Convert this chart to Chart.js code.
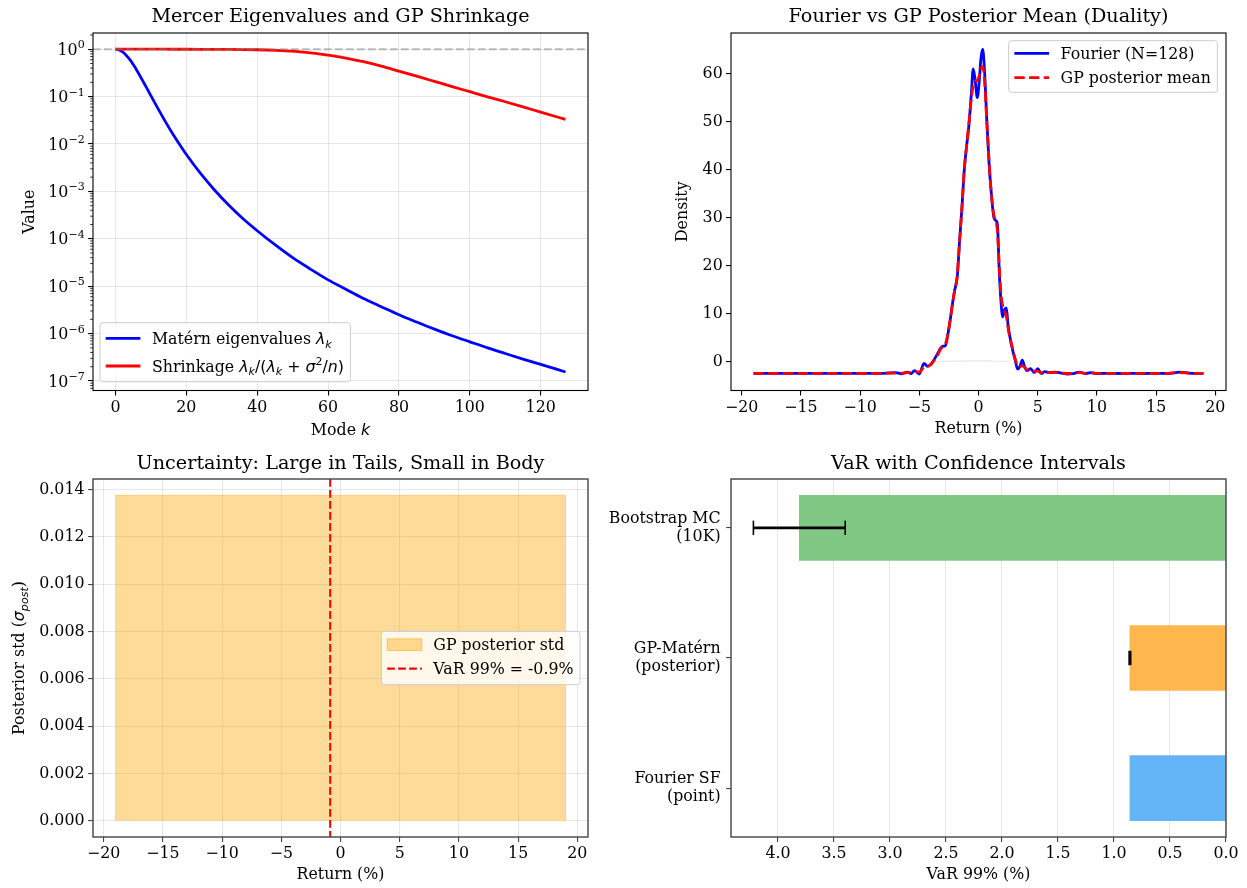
<!DOCTYPE html>
<html>
<head>
<meta charset="utf-8">
<script src="https://cdn.jsdelivr.net/npm/chart.js@4.4.1/dist/chart.umd.min.js"></script>
<style>
  html, body { margin: 0; padding: 0; background: #fff; }
  #fig { position: relative; width: 1247px; height: 888px; overflow: hidden; }
  canvas { position: absolute; }
</style>
</head>
<body>
<div id="fig">
  <canvas id="mercer" width="620" height="444" style="left:0;top:0"></canvas>
  <canvas id="duality" width="627" height="444" style="left:620px;top:0"></canvas>
  <canvas id="uncert" width="620" height="444" style="left:0;top:444px"></canvas>
  <canvas id="var" width="647" height="444" style="left:600px;top:444px"></canvas>
</div>
<script>
// ---- data: Mercer eigenvalues / shrinkage (top left) ----
const modeK = [0, 1, 2, 3, 4, 5, 6, 8, 10, 12, 14, 16, 18, 20, 24, 28, 32, 36, 40, 45, 50, 55, 60, 65, 70, 75, 80, 85, 90, 95, 100, 105, 110, 115, 120, 127];
const maternEig = [1, 0.967, 0.876, 0.749, 0.609, 0.476, 0.361, 0.196, 0.104, 0.0557, 0.0304, 0.0171, 0.0100, 0.0060, 2.39e-3, 1.06e-3, 5.1e-4, 2.65e-4, 1.48e-4, 7.5e-5, 4.0e-5, 2.3e-5, 1.36e-5, 8.6e-6, 5.5e-6, 3.7e-6, 2.5e-6, 1.75e-6, 1.24e-6, 9.0e-7, 6.7e-7, 5.0e-7, 3.8e-7, 2.9e-7, 2.25e-7, 1.55e-7];
const shrinkage = [1, 1, 1, 1, 1, 1, 1, 1, 1, 1, 1, 0.9997, 0.9995, 0.9992, 0.998, 0.996, 0.992, 0.985, 0.975, 0.95, 0.91, 0.84, 0.755, 0.65, 0.545, 0.44, 0.345, 0.27, 0.21, 0.163, 0.127, 0.099, 0.078, 0.061, 0.047, 0.033];
const mercerXTicks = [0, 20, 40, 60, 80, 100, 120];
const mercerYTicks = [1e-7, 1e-6, 1e-5, 1e-4, 1e-3, 1e-2, 1e-1, 1];
const mercerYExponents = ['\u22127', '\u22126', '\u22125', '\u22124', '\u22123', '\u22122', '\u22121', '0'];

// ---- data: Fourier vs GP posterior mean (top right) ----
const returnX = [-19, -15, -10, -8, -7, -6.5, -6, -5.7, -5.4, -5.0, -4.6, -4.3, -4.0, -3.7, -3.4, -3.2, -3.0, -2.8, -2.6, -2.4,
  -2.2, -2.0, -1.8, -1.6, -1.4, -1.2, -1.0, -0.8, -0.6, -0.45, -0.3, -0.1, 0.05, 0.2, 0.35, 0.5, 0.7, 0.9, 1.1, 1.3,
  1.5, 1.6, 1.75, 1.9, 2.05, 2.2, 2.35, 2.5, 2.7, 2.9, 3.1, 3.3, 3.5, 3.7, 3.9, 4.1, 4.4, 4.7, 5.0, 5.3,
  5.6, 6.0, 6.5, 7.0, 7.5, 8.0, 8.5, 9.0, 9.5, 10, 11, 12, 13, 14, 15, 16, 17, 18, 19];
const fourierDensity = [-2.45, -2.45, -2.45, -2.45, -2.3, -2.55, -2.2, -2.5, -1.9, -2.6, -0.4, -1.0, -0.5, 0.6, 1.9, 2.8, 3.2, 3.3, 5.5, 8.5,
  12.0, 15.0, 17.5, 25.0, 32.0, 40.0, 45.0, 49.5, 56.0, 61.0, 59.0, 55.0, 58.0, 63.0, 65.1, 61.0, 50.3, 41.0, 34.5, 30.0,
  29.3, 28.5, 19.0, 12.5, 9.3, 10.8, 11.2, 7.5, 4.5, 2.2, 0.3, -1.6, -1.0, 0.3, -1.2, -1.9, -1.5, -2.3, -1.5, -2.5,
  -2.1, -2.3, -2.2, -2.4, -2.6, -2.5, -2.2, -2.5, -2.3, -2.5, -2.45, -2.5, -2.45, -2.5, -2.45, -2.5, -2.2, -2.45, -2.45];
const gpMeanDensity = [-2.45, -2.45, -2.45, -2.45, -2.4, -2.4, -2.3, -2.3, -2.1, -2.2, -1.2, -1.0, -0.6, 0.4, 1.6, 2.6, 3.1, 3.6, 5.5, 8.5,
  12.0, 15.0, 17.8, 25.0, 32.0, 40.0, 45.0, 50.0, 55.0, 57.5, 58.5, 58.5, 59.5, 61.0, 61.5, 59.0, 50.0, 41.5, 34.5, 30.5,
  29.0, 27.0, 20.0, 14.0, 11.5, 10.5, 9.5, 7.0, 4.5, 2.5, 0.5, -0.8, -1.0, -0.9, -1.2, -1.7, -1.8, -2.0, -2.0, -2.3,
  -2.2, -2.3, -2.25, -2.4, -2.5, -2.45, -2.3, -2.45, -2.35, -2.45, -2.45, -2.45, -2.45, -2.45, -2.45, -2.45, -2.3, -2.45, -2.45];
const faintX = [-3.5, -2.5, -1.5, -0.5, 0.5, 1.5, 2.5];
const faintY = [0.0, 0.05, 0.1, 0.14, 0.12, 0.06, 0.0];
const returnTicks = [-20, -15, -10, -5, 0, 5, 10, 15, 20];
const densityTicks = [0, 10, 20, 30, 40, 50, 60];

// ---- data: posterior std (bottom left) ----
const stdX = [-19, -19, 19, 19];
const stdY = [0, 0.01376, 0.01376, 0];
const varLine = -0.87;
const stdTicks = [0, 0.002, 0.004, 0.006, 0.008, 0.010, 0.012, 0.014];

// ---- data: VaR with CI (bottom right) ----
const varMethods = [['Bootstrap MC', '(10K)'], ['GP-Mat\u00e9rn', '(posterior)'], ['Fourier SF', '(point)']];
const varPos = [2, 1, 0];
const varValue = [3.81, 0.858, 0.858];
const varLow = [3.40, 0.851, null];
const varHigh = [4.22, 0.865, null];
const varColors = ['#81C784', '#FFB74D', '#64B5F6'];
const varTicks = [0, 0.5, 1.0, 1.5, 2.0, 2.5, 3.0, 3.5, 4.0];

// ---- styling ----
const SERIF = "'DejaVu Serif', serif";
const MATH = "'DejaVu Sans', sans-serif";
const FS = 15.8;
const TFS = 19.2;
const GRID = 'rgba(176,176,176,0.3)';
const minus = v => String(v).replace('-', '\u2212');

Chart.defaults.font.family = SERIF;
Chart.defaults.font.size = FS;
Chart.defaults.color = '#000';
Chart.defaults.animation = false;
Chart.defaults.plugins.legend.display = false;
Chart.defaults.plugins.tooltip.enabled = false;

function titleOpts(text, top, bottom) {
  return { display: true, text: text, fullSize: false, color: '#000',
    font: { size: TFS, weight: 'normal', family: SERIF }, padding: { top: top, bottom: bottom } };
}

function makeAxis(o) {
  const ax = {
    type: o.type || 'linear', bounds: 'data', min: o.min, max: o.max, reverse: !!o.reverse, z: o.z || 0,
    offset: false,
    border: { display: false },
    grid: { color: GRID, lineWidth: 1.1, drawOnChartArea: o.grid !== false, offset: false,
      tickColor: o.tickColor || '#000', tickLength: 4.9, tickWidth: 1.1 },
    ticks: { display: o.hideLabels ? false : true, padding: o.pad, autoSkip: false, maxRotation: 0, minRotation: 0,
      color: '#000', font: { size: FS, lineHeight: o.lineHeight || 1.2 },
      callback: (v, i) => (o.labels ? o.labels[i] : '') },
    afterBuildTicks: s => { s.ticks = o.ticks.map(v => ({ value: v })); },
    afterFit: s => { if (o.vertical) s.width = o.size; else s.height = o.size; }
  };
  if (o.title) ax.title = { display: true, text: o.title, color: '#000', font: { size: FS }, padding: o.titlePad };
  return ax;
}

// rich text with italic math, subscripts and superscripts
function segFont(s, size) {
  const sz = (s.sub || s.sup) ? size * 0.7 : size;
  return (s.it ? 'italic ' : '') + sz + 'px ' + (s.math ? MATH : SERIF);
}
function richWidth(ctx, segs, size) {
  let w = 0;
  segs.forEach(s => { ctx.font = segFont(s, size); w += ctx.measureText(s.t).width; });
  return w;
}
function drawRich(ctx, segs, x, y, size, align) {
  const w = richWidth(ctx, segs, size);
  let cx = align === 'center' ? x - w / 2 : (align === 'right' ? x - w : x);
  ctx.textAlign = 'left';
  ctx.textBaseline = 'alphabetic';
  const base = y + size * 0.36;
  segs.forEach(s => {
    ctx.font = segFont(s, size);
    const dy = s.sub ? size * 0.24 : (s.sup ? -size * 0.42 : 0);
    ctx.fillText(s.t, cx, base + dy);
    cx += ctx.measureText(s.t).width;
  });
}

function framePlugin(color, width) {
  return { id: 'frame', afterDraw(chart) {
    const { ctx, chartArea: a } = chart;
    ctx.save();
    ctx.strokeStyle = color; ctx.lineWidth = width;
    ctx.strokeRect(a.left, a.top, a.right - a.left, a.bottom - a.top);
    ctx.restore();
  } };
}

function legendPlugin(lg) {
  return { id: 'customLegend', afterDraw(chart) {
    const { ctx, chartArea: a } = chart;
    ctx.save();
    const textW = Math.max(...lg.items.map(it => richWidth(ctx, it.segs, FS)));
    const w = 51.9 + textW + 6.5;
    let x, y;
    if (lg.anchor === 'lowerleft') { x = a.left + lg.dx; y = a.bottom - lg.dy - lg.h; }
    else if (lg.anchor === 'upperright') { x = a.right - lg.dx - w; y = a.top + lg.dy; }
    else { x = a.right - lg.dx - w; y = (a.top + a.bottom) / 2 - lg.h / 2; }
    ctx.beginPath();
    ctx.roundRect(x, y, w, lg.h, 3);
    ctx.fillStyle = 'rgba(255,255,255,0.8)';
    ctx.fill();
    ctx.strokeStyle = '#cccccc'; ctx.lineWidth = 1;
    ctx.stroke();
    lg.items.forEach((it, i) => {
      const ry = y + lg.rows[i];
      const hx = x + 5.7;
      if (it.kind === 'patch') {
        ctx.fillStyle = it.fill;
        ctx.fillRect(hx, ry - 5.85, 34.7, 11.7);
        ctx.strokeStyle = it.edge; ctx.lineWidth = 1;
        ctx.strokeRect(hx, ry - 5.85, 34.7, 11.7);
      } else {
        ctx.beginPath();
        ctx.setLineDash(it.dash || []);
        ctx.strokeStyle = it.color; ctx.lineWidth = it.width;
        ctx.moveTo(hx, ry); ctx.lineTo(hx + 34.7, ry);
        ctx.stroke();
        ctx.setLineDash([]);
      }
      ctx.fillStyle = '#000';
      drawRich(ctx, it.segs, x + 51.9, ry, FS, 'left');
    });
    ctx.restore();
  } };
}

// ---------------- top left: Mercer eigenvalues ----------------
const mercerExtras = {
  id: 'mercerExtras',
  afterDatasetsDraw(chart) {
    const { ctx, chartArea: a, scales } = chart;
    const y1 = scales.y.getPixelForValue(1);
    ctx.save();
    ctx.strokeStyle = 'rgba(128,128,128,0.5)'; ctx.lineWidth = 2.08;
    ctx.setLineDash([7.7, 3.3]);
    ctx.beginPath(); ctx.moveTo(a.left, y1); ctx.lineTo(a.right, y1); ctx.stroke();
    ctx.restore();
  },
  afterDraw(chart) {
    const { ctx, chartArea: a, scales } = chart;
    ctx.save();
    // minor log ticks
    ctx.strokeStyle = '#000'; ctx.lineWidth = 0.8;
    for (let n = -8; n <= 0; n++) {
      for (let m = 2; m <= 9; m++) {
        const v = m * Math.pow(10, n);
        if (v < scales.y.min || v > scales.y.max) continue;
        const py = scales.y.getPixelForValue(v);
        ctx.beginPath(); ctx.moveTo(a.left - 2.8, py); ctx.lineTo(a.left, py); ctx.stroke();
      }
    }
    // power-of-ten tick labels
    ctx.fillStyle = '#000';
    scales.y.ticks.forEach((t, i) => {
      const py = scales.y.getPixelForValue(t.value);
      drawRich(ctx, [{ t: '10' }, { t: mercerYExponents[i], sup: true }], a.left - 8.3, py, FS, 'right');
    });
    drawRich(ctx, [{ t: 'Mode ' }, { t: 'k', it: true, math: true }], (a.left + a.right) / 2, 429, FS, 'center');
    ctx.restore();
  }
};

new Chart(document.getElementById('mercer'), {
  type: 'line',
  data: { datasets: [
    { data: modeK.map((k, i) => ({ x: k, y: maternEig[i] })), borderColor: '#0000ff', borderWidth: 2.78,
      pointRadius: 0, cubicInterpolationMode: 'monotone', order: 2 },
    { data: modeK.map((k, i) => ({ x: k, y: shrinkage[i] })), borderColor: '#ff0000', borderWidth: 2.78,
      pointRadius: 0, cubicInterpolationMode: 'monotone', order: 1 }
  ] },
  options: {
    responsive: false,
    layout: { padding: { left: 0, right: 32, top: 0, bottom: 0 } },
    plugins: { title: titleOpts('Mercer Eigenvalues and GP Shrinkage', 5.18, 4.78) },
    scales: {
      x: makeAxis({ min: -6.35, max: 133.35, ticks: mercerXTicks, labels: mercerXTicks.map(String), size: 53.5, pad: 3.0 }),
      y: makeAxis({ type: 'logarithmic', min: 6.3e-8, max: 2.2, ticks: mercerYTicks, hideLabels: true,
        vertical: true, size: 93, pad: 3.4, title: 'Value', titlePad: { top: 20.0 } })
    }
  },
  plugins: [mercerExtras, framePlugin('#000', 1.1), legendPlugin({
    anchor: 'lowerleft', dx: 7, dy: 8.8, h: 59, rows: [15.6, 43.3],
    items: [
      { kind: 'line', color: '#0000ff', width: 2.78,
        segs: [{ t: 'Mat\u00e9rn eigenvalues ' }, { t: '\u03bb', it: true, math: true }, { t: 'k', it: true, math: true, sub: true }] },
      { kind: 'line', color: '#ff0000', width: 2.78,
        segs: [{ t: 'Shrinkage ' }, { t: '\u03bb', it: true, math: true }, { t: 'k', it: true, math: true, sub: true },
          { t: '/(', math: true }, { t: '\u03bb', it: true, math: true }, { t: 'k', it: true, math: true, sub: true },
          { t: ' + ', math: true }, { t: '\u03c3', it: true, math: true }, { t: '2', math: true, sup: true },
          { t: '/', math: true }, { t: 'n', it: true, math: true }, { t: ')', math: true }] }
    ]
  })]
});

// ---------------- top right: Fourier vs GP ----------------
new Chart(document.getElementById('duality'), {
  type: 'line',
  data: { datasets: [
    { data: returnX.map((x, i) => ({ x: x, y: fourierDensity[i] })), borderColor: '#0000ff', borderWidth: 2.78,
      pointRadius: 0, cubicInterpolationMode: 'monotone', order: 2 },
    { data: returnX.map((x, i) => ({ x: x, y: gpMeanDensity[i] })), borderColor: '#ff0000', borderWidth: 2.78,
      borderDash: [10.3, 4.4], pointRadius: 0, cubicInterpolationMode: 'monotone', order: 1 },
    { data: faintX.map((x, i) => ({ x: x, y: faintY[i] })), borderColor: 'rgba(215,215,215,0.6)', borderWidth: 1.2,
      pointRadius: 0, tension: 0.4, order: 3 }
  ] },
  options: {
    responsive: false,
    layout: { padding: { left: 0, right: 21, top: 0, bottom: 0 } },
    plugins: { title: titleOpts('Fourier vs GP Posterior Mean (Duality)', 5.18, 4.78) },
    scales: {
      x: makeAxis({ min: -20.9, max: 20.9, ticks: returnTicks, labels: returnTicks.map(minus), size: 53.5, pad: 3.0,
        grid: false, title: 'Return (%)', titlePad: { bottom: 5.5 } }),
      y: makeAxis({ min: -6.04, max: 68.46, ticks: densityTicks, labels: densityTicks.map(String), vertical: true,
        size: 111, pad: 3.4, grid: false, title: 'Density', titlePad: { top: 53.7 } })
    }
  },
  plugins: [framePlugin('#000', 1.1), legendPlugin({
    anchor: 'upperright', dx: 8.6, dy: 7.7, h: 51.6, rows: [12.6, 37],
    items: [
      { kind: 'line', color: '#0000ff', width: 2.78, segs: [{ t: 'Fourier (N=128)' }] },
      { kind: 'line', color: '#ff0000', width: 2.78, dash: [10.3, 4.4], segs: [{ t: 'GP posterior mean' }] }
    ]
  })]
});

// ---------------- bottom left: posterior std ----------------
const uncertExtras = {
  id: 'uncertExtras',
  afterDraw(chart) {
    const { ctx, chartArea: a, scales } = chart;
    const px = scales.x.getPixelForValue(varLine);
    ctx.save();
    ctx.strokeStyle = '#ff0000'; ctx.lineWidth = 2.08;
    ctx.setLineDash([7.7, 3.3]);
    ctx.beginPath(); ctx.moveTo(px, a.top); ctx.lineTo(px, a.bottom); ctx.stroke();
    ctx.setLineDash([]);
    ctx.translate(18.2, (a.top + a.bottom) / 2);
    ctx.rotate(-Math.PI / 2);
    ctx.fillStyle = '#000';
    drawRich(ctx, [{ t: 'Posterior std (' }, { t: '\u03c3', it: true, math: true },
      { t: 'post', it: true, math: true, sub: true }, { t: ')' }], 0, 0, FS, 'center');
    ctx.restore();
  }
};

new Chart(document.getElementById('uncert'), {
  type: 'line',
  data: { datasets: [
    { data: stdX.map((x, i) => ({ x: x, y: stdY[i] })), borderColor: 'rgba(255,165,0,0.4)', borderWidth: 1.1,
      backgroundColor: 'rgba(255,165,0,0.4)', fill: 'origin', pointRadius: 0, tension: 0 }
  ] },
  options: {
    responsive: false,
    layout: { padding: { left: 0, right: 32, top: 0, bottom: 0 } },
    plugins: { title: titleOpts('Uncertainty: Large in Tails, Small in Body', 8.48, 3.48) },
    scales: {
      x: makeAxis({ min: -20.9, max: 20.9, ticks: returnTicks, labels: returnTicks.map(minus), size: 51, pad: 3.0,
        z: 1, tickColor: '#444', title: 'Return (%)', titlePad: { bottom: 3.5 } }),
      y: makeAxis({ min: -0.000688, max: 0.01445, ticks: stdTicks, labels: stdTicks.map(v => v.toFixed(3)),
        vertical: true, size: 93, pad: 3.6, z: 1, tickColor: '#444' })
    }
  },
  plugins: [uncertExtras, framePlugin('#444', 1.4), legendPlugin({
    anchor: 'centerright', dx: 8, h: 53.3, rows: [13.3, 37.3],
    items: [
      { kind: 'patch', fill: 'rgba(255,165,0,0.4)', edge: 'rgba(255,165,0,0.5)', segs: [{ t: 'GP posterior std' }] },
      { kind: 'line', color: '#ff0000', width: 2.08, dash: [7.7, 3.3], segs: [{ t: 'VaR 99% = -0.9%' }] }
    ]
  })]
});

// ---------------- bottom right: VaR bars ----------------
const errorBars = {
  id: 'errorBars',
  afterDraw(chart) {
    const { ctx, scales } = chart;
    ctx.save();
    ctx.strokeStyle = '#000';
    varPos.forEach((p, i) => {
      if (varLow[i] === null) return;
      const py = scales.y.getPixelForValue(p);
      const x1 = scales.x.getPixelForValue(varLow[i]);
      const x2 = scales.x.getPixelForValue(varHigh[i]);
      ctx.lineWidth = 2.78;
      ctx.beginPath(); ctx.moveTo(x1, py); ctx.lineTo(x2, py); ctx.stroke();
      ctx.lineWidth = 1.6;
      [x1, x2].forEach(cx => { ctx.beginPath(); ctx.moveTo(cx, py - 7.2); ctx.lineTo(cx, py + 7.2); ctx.stroke(); });
    });
    ctx.restore();
  }
};

new Chart(document.getElementById('var'), {
  type: 'bar',
  data: { datasets: [
    { data: varPos.map((p, i) => ({ x: varValue[i], y: p })), backgroundColor: varColors, borderWidth: 0, barThickness: 65 }
  ] },
  options: {
    responsive: false,
    indexAxis: 'y',
    layout: { padding: { left: 0, right: 21, top: 0, bottom: 0 } },
    plugins: { title: titleOpts('VaR with Confidence Intervals', 8.48, 3.48) },
    scales: {
      x: makeAxis({ min: 0, max: 4.42, reverse: true, ticks: varTicks, labels: varTicks.map(v => v.toFixed(1)), size: 51,
        pad: 3.0, z: 1, tickColor: '#444', title: 'VaR 99% (%)', titlePad: { bottom: 3.5 } }),
      y: makeAxis({ min: -0.375, max: 2.375, ticks: [0, 1, 2], labels: [varMethods[2], varMethods[1], varMethods[0]],
        vertical: true, size: 131, pad: 5.5, grid: false, tickColor: '#444', lineHeight: 1.16 })
    }
  },
  plugins: [errorBars, framePlugin('#444', 1.4)]
});
</script>
</body>
</html>
